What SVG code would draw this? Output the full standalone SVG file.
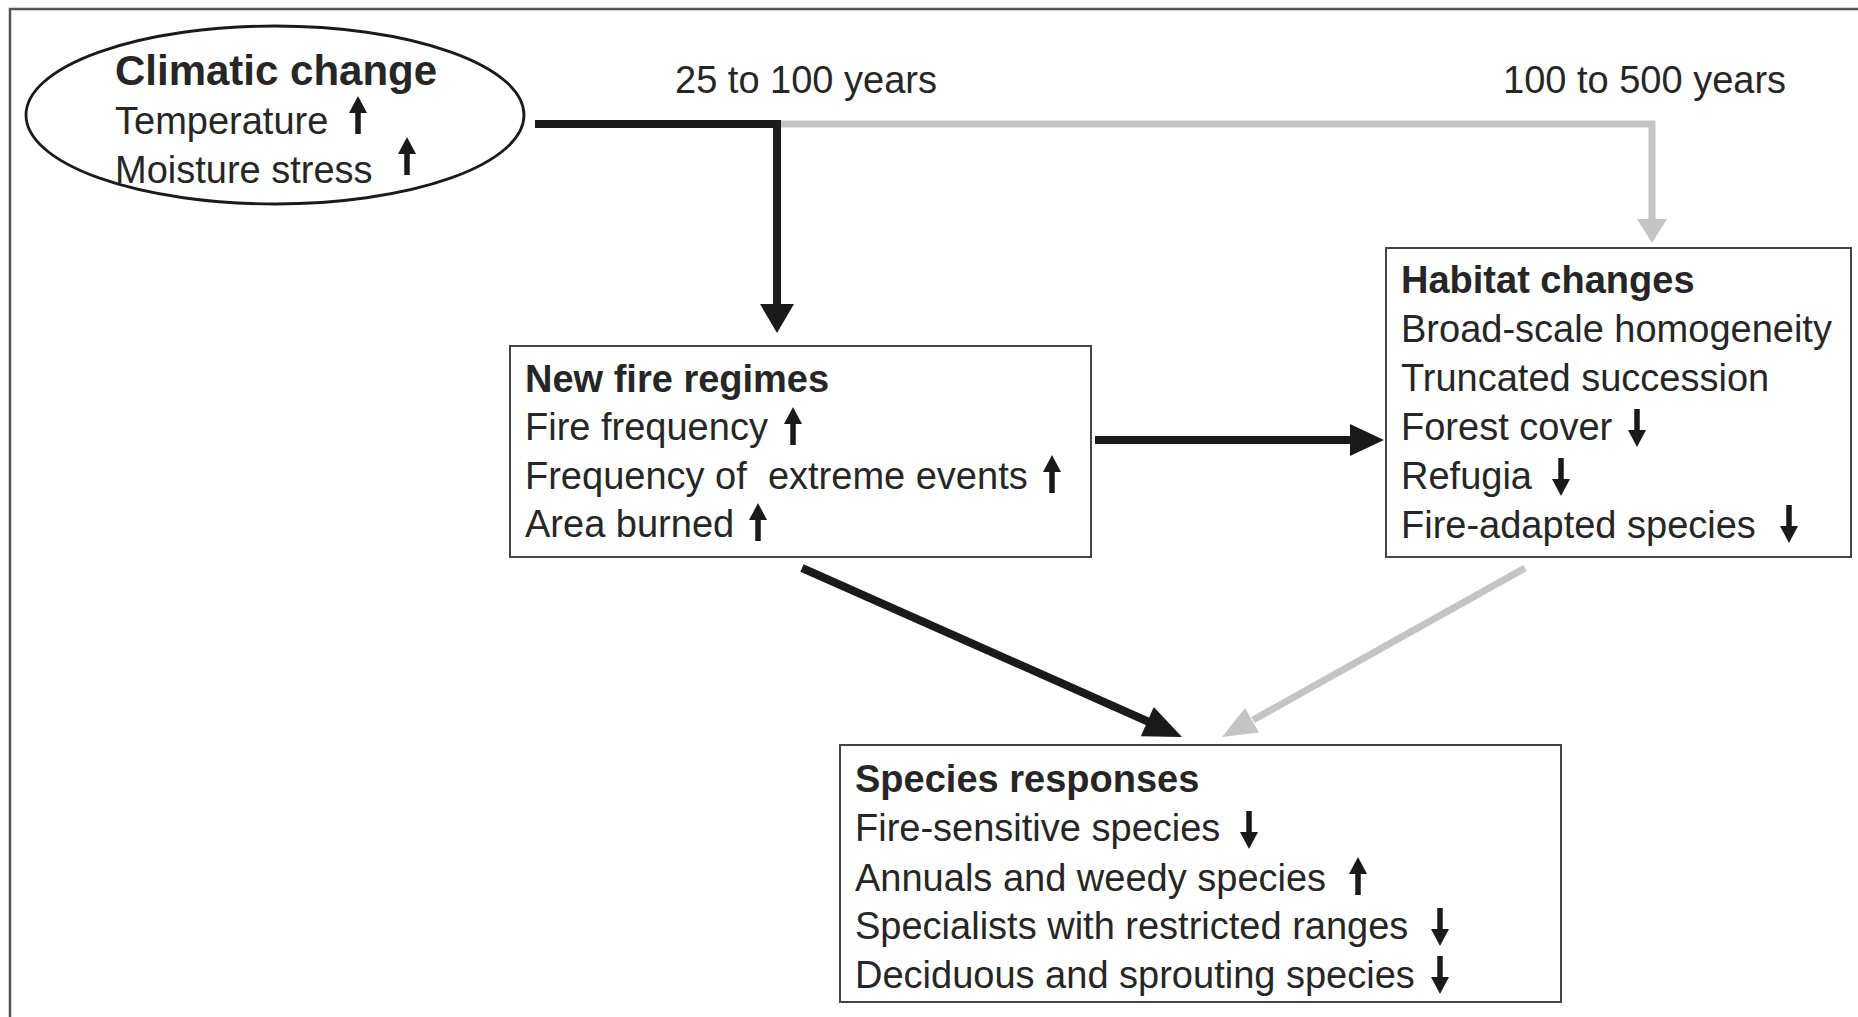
<svg xmlns="http://www.w3.org/2000/svg" xmlns:xlink="http://www.w3.org/1999/xlink" width="1858" height="1017" viewBox="0 0 1858 1017">
<style>
text{font-family:"Liberation Sans",Arial,Helvetica,sans-serif;fill:#262626;font-size:38px}
.b{font-weight:bold}
.t{font-size:42px}
.box{fill:#fff;stroke:#444;stroke-width:2}
.blk{stroke:#1a1a1a;fill:none;stroke-width:8}
.gry{stroke:#c4c4c4;fill:none;stroke-width:7}
</style>
<defs>
<g id="up"><polygon points="0,0 9,17 -9,17" fill="#1a1a1a"/><rect x="-2.75" y="15" width="5.5" height="23" fill="#1a1a1a"/></g>
<g id="dn"><polygon points="0,38 9,21 -9,21" fill="#1a1a1a"/><rect x="-2.75" y="0" width="5.5" height="23" fill="#1a1a1a"/></g>
</defs>
<rect x="0" y="0" width="1858" height="1017" fill="#fff"/>
<rect x="10" y="9" width="1870" height="1030" fill="none" stroke="#555" stroke-width="2.5"/>

<g id="connectors">
<polyline class="gry" points="777,124 1652,124 1652,222"/>
<polygon points="1652,243 1637,219 1667,219" fill="#c4c4c4"/>
<polyline class="blk" points="535,124 777,124 777,306"/>
<polygon points="777,333 760,304 794,304" fill="#1a1a1a"/>
<line class="blk" x1="1095" y1="440" x2="1352" y2="440"/>
<polygon points="1384,440 1350,424 1350,456" fill="#1a1a1a"/>
<line class="blk" x1="802" y1="568" x2="1149" y2="722"/>
<polygon points="1182,737 1140.8,736.2 1153.8,707" fill="#1a1a1a"/>
<line class="gry" x1="1525" y1="568" x2="1253" y2="720"/>
<polygon points="1222,737 1259,732.5 1245,708" fill="#c4c4c4"/>
<text x="675" y="93">25 to 100 years</text>
<text x="1503" y="93">100 to 500 years</text>
</g>

<g id="climatic-change">
<ellipse cx="275" cy="115" rx="249" ry="89" fill="none" stroke="#1a1a1a" stroke-width="2.8"/>
<text x="115" y="85" class="b t">Climatic change</text>
<text x="115" y="134">Temperature</text>
<text x="115" y="183">Moisture stress</text>
<use xlink:href="#up" x="358" y="96"/>
<use xlink:href="#up" x="407" y="137"/>
</g>

<g id="new-fire-regimes">
<rect class="box" x="510" y="346" width="581" height="211"/>
<text x="525" y="392" class="b">New fire regimes</text>
<text x="525" y="440">Fire frequency</text>
<text x="525" y="489" xml:space="preserve">Frequency of  extreme events</text>
<text x="525" y="537">Area burned</text>
<use xlink:href="#up" x="793" y="407"/>
<use xlink:href="#up" x="1052" y="455"/>
<use xlink:href="#up" x="758" y="503"/>
</g>

<g id="habitat-changes">
<rect class="box" x="1386" y="248" width="465" height="309"/>
<text x="1401" y="293" class="b">Habitat changes</text>
<text x="1401" y="342">Broad-scale homogeneity</text>
<text x="1401" y="391">Truncated succession</text>
<text x="1401" y="440">Forest cover</text>
<text x="1401" y="489">Refugia</text>
<text x="1401" y="538">Fire-adapted species</text>
<use xlink:href="#dn" x="1637" y="409"/>
<use xlink:href="#dn" x="1561" y="458"/>
<use xlink:href="#dn" x="1789" y="505"/>
</g>

<g id="species-responses">
<rect class="box" x="840" y="745" width="721" height="257"/>
<text x="855" y="792" class="b">Species responses</text>
<text x="855" y="841">Fire-sensitive species</text>
<text x="855" y="891">Annuals and weedy species</text>
<text x="855" y="939">Specialists with restricted ranges</text>
<text x="855" y="988">Deciduous and sprouting species</text>
<use xlink:href="#dn" x="1249" y="811"/>
<use xlink:href="#up" x="1358" y="857"/>
<use xlink:href="#dn" x="1440" y="908"/>
<use xlink:href="#dn" x="1440" y="956"/>
</g>
</svg>
